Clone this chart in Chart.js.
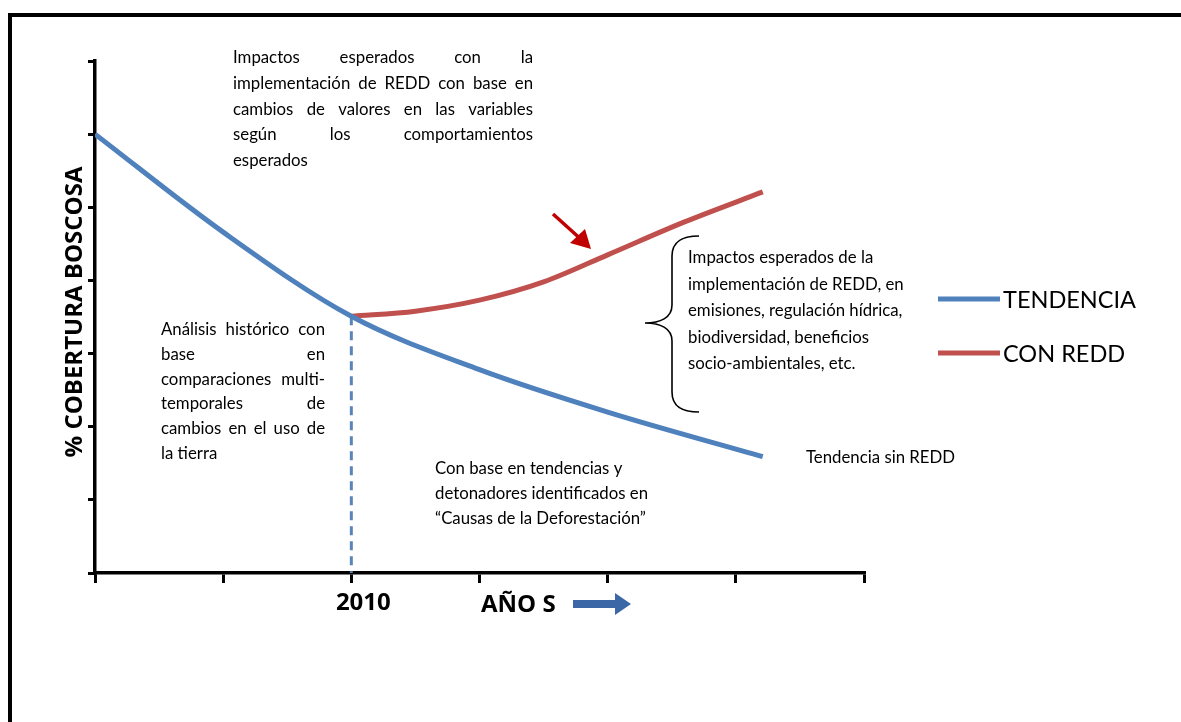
<!DOCTYPE html>
<html>
<head>
<meta charset="utf-8">
<script src="https://cdn.jsdelivr.net/npm/chart.js@4.4.1/dist/chart.umd.min.js"></script>
<style>
  html,body{margin:0;padding:0;background:#fff;overflow:hidden}
  #wrap{position:absolute;left:0;top:0;width:1181px;height:722px}
  #frame{position:absolute;left:8px;top:13px;width:1180px;height:720px;border-top:4px solid #000;border-left:4px solid #000}
</style>
</head>
<body>
<div id="wrap">
  <canvas id="c" width="1181" height="722"></canvas>
  <div id="frame"></div>
</div>
<script>
// axis ticks (unlabelled apart from 2010)
const xTicks = [0, 1, 2, 3, 4, 5, 6];
const yTicks = [0, 1, 2, 3, 4, 5, 6, 7];
const yearTick = 2, yearLabel = '2010';

// TENDENCIA (sin REDD)
const tendX = [0, 1, 2, 3, 4, 5.21];
const tendY = [6.0, 4.66, 3.51, 2.78, 2.2, 1.59];
// CON REDD
const reddX = [2, 2.5, 3, 3.5, 4, 4.6, 5.21];
const reddY = [3.51, 3.58, 3.73, 3.98, 4.35, 4.8, 5.21];

const BLUE = '#4F81BD', RED = '#C0504D';
const TXT = '16.8px Lato';

const topText = ['Impactos esperados con la','implementación de REDD con base en','cambios de valores en las variables','según los comportamientos','esperados'];
const leftText = ['Análisis histórico con','base en','comparaciones multi-','temporales de','cambios en el uso de','la tierra'];
const bottomText = ['Con base en tendencias y','detonadores identificados en','“Causas de la Deforestación”'];
const rightText = ['Impactos esperados de la','implementación de REDD, en','emisiones, regulación hídrica,','biodiversidad, beneficios','socio-ambientales, etc.'];

function block(ctx, lines, x, y0, lh, width) {
  lines.forEach((ln, i) => {
    const y = y0 + i*lh;
    const words = ln.split(' ');
    if (width && i < lines.length-1 && words.length > 1) {
      const w = words.reduce((s,t)=>s+ctx.measureText(t).width,0);
      const gap = (width - w)/(words.length-1);
      let cx = x;
      words.forEach(t => { ctx.fillText(t, cx, y); cx += ctx.measureText(t).width + gap; });
    } else ctx.fillText(ln, x, y);
  });
}

const extras = {
  id:'extras',
  afterDraw(chart){
    const ctx = chart.ctx;
    ctx.save();
    ctx.fillStyle = '#000';
    ctx.textBaseline = 'alphabetic';
    ctx.textAlign = 'left';
    ctx.font = TXT;
    block(ctx, topText, 233, 63, 25.8, 300);
    block(ctx, leftText, 161, 335, 24.8, 164);
    block(ctx, bottomText, 435, 474, 25);
    block(ctx, rightText, 688, 263, 26.5);
    ctx.fillText('Tendencia sin REDD', 806, 463);

    // y title
    ctx.save();
    ctx.translate(82, 312);
    ctx.rotate(-Math.PI/2);
    ctx.textAlign = 'center';
    ctx.font = 'bold 24px "Open Sans"';
    ctx.fillText('% COBERTURA BOSCOSA', 0, 0);
    ctx.restore();

    // AÑO S + arrow
    ctx.font = 'bold 24px "Open Sans"';
    ctx.fillText('AÑO S', 481, 612);
    ctx.fillStyle = '#3B67A6';
    ctx.beginPath();
    ctx.moveTo(573, 600); ctx.lineTo(615, 600); ctx.lineTo(615, 593);
    ctx.lineTo(631, 604); ctx.lineTo(615, 615); ctx.lineTo(615, 608);
    ctx.lineTo(573, 608); ctx.closePath(); ctx.fill();

    // brace
    ctx.strokeStyle = '#000'; ctx.lineWidth = 1.6;
    ctx.beginPath();
    ctx.moveTo(699, 236);
    ctx.bezierCurveTo(684, 236, 672, 240, 672, 256);
    ctx.lineTo(672, 305);
    ctx.bezierCurveTo(672, 318, 660, 323, 645, 323);
    ctx.bezierCurveTo(660, 323, 672, 328, 672, 341);
    ctx.lineTo(672, 392);
    ctx.bezierCurveTo(672, 408, 684, 412, 699, 412);
    ctx.stroke();

    // red arrow
    ctx.strokeStyle = '#C00000'; ctx.fillStyle = '#C00000'; ctx.lineWidth = 3.5;
    ctx.beginPath(); ctx.moveTo(553, 214); ctx.lineTo(584, 242); ctx.stroke();
    ctx.beginPath();
    ctx.moveTo(591, 249); ctx.lineTo(570, 243); ctx.lineTo(585, 229); ctx.closePath(); ctx.fill();

    // legend
    [[BLUE,'TENDENCIA',299],[RED,'CON REDD',353]].forEach(([c,t,y]) => {
      ctx.strokeStyle = c; ctx.lineWidth = 5;
      ctx.beginPath(); ctx.moveTo(938, y); ctx.lineTo(1000, y); ctx.stroke();
      ctx.fillStyle = '#000'; ctx.font = '23.5px Lato'; ctx.textBaseline = 'middle';
      ctx.fillText(t, 1003, y+1);
    });
    ctx.restore();
  }
};

new Chart(document.getElementById('c'), {
  type:'line',
  data:{datasets:[
    {label:'TENDENCIA', data:tendX.map((x,i)=>({x, y:tendY[i]})), borderColor:BLUE, borderWidth:5, pointRadius:0, cubicInterpolationMode:'monotone', fill:false},
    {label:'CON REDD', data:reddX.map((x,i)=>({x, y:reddY[i]})), borderColor:RED, borderWidth:5, pointRadius:0, cubicInterpolationMode:'monotone', fill:false},
    {label:'2010', data:[{x:yearTick, y:tendY[2]}, {x:yearTick, y:0}], borderColor:'#5B84B8', borderWidth:3, borderDash:[9,6], pointRadius:0, fill:false}
  ]},
  options:{
    responsive:false, animation:false, devicePixelRatio:1,
    layout:{padding:{left:0, top:61, right:1181-864, bottom:0}},
    plugins:{legend:{display:false}, tooltip:{enabled:false}},
    scales:{
      x:{type:'linear', min:0, max:6,
        afterBuildTicks:s=>{s.ticks = xTicks.map(v=>({value:v}));},
        afterFit:s=>{s.height = 722-573;},
        grid:{drawOnChartArea:false, drawTicks:true, tickLength:10, color:'#000', lineWidth:3},
        border:{display:true, color:'#000', width:3.5},
        ticks:{callback:v=> v===yearTick ? yearLabel : '', autoSkip:false, maxRotation:0, padding:6, labelOffset:12,
          color:'#000', font:{family:'"Open Sans"', size:24, weight:'bold'}}
      },
      y:{min:0, max:7,
        afterBuildTicks:s=>{s.ticks = yTicks.map(v=>({value:v}));},
        afterFit:s=>{s.width = 95;},
        grid:{drawOnChartArea:false, drawTicks:true, tickLength:7, color:'#000', lineWidth:3},
        border:{display:true, color:'#000', width:3.5},
        ticks:{display:false}
      }
    }
  },
  plugins:[extras]
});
</script>
</body>
</html>
